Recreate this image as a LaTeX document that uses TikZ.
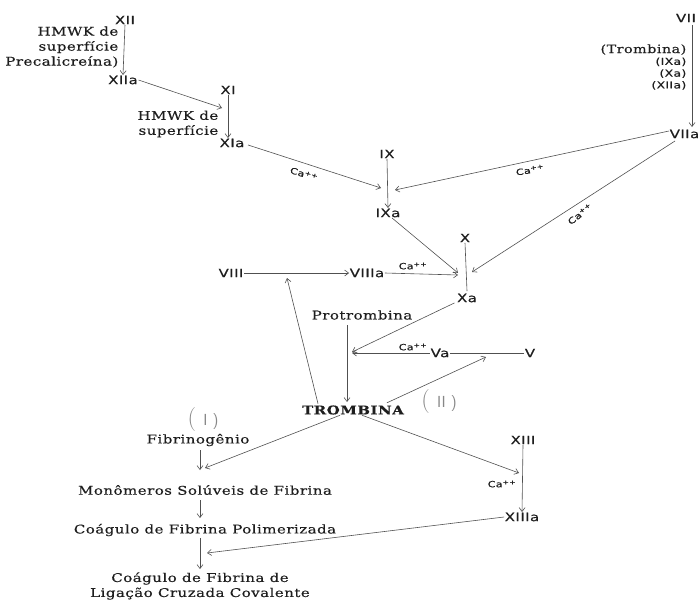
\documentclass[tikz,border=0pt]{standalone}
\usepackage{fontspec}
\setmainfont{DejaVu Serif}[LetterSpace=4,FakeStretch=1.25,FakeBold=0.4]
\newfontfamily\numfont{DejaVu Sans}[LetterSpace=4,FakeStretch=1.3,FakeBold=0.6]
\newfontfamily\lmsans{Latin Modern Sans}
\newfontfamily\lmroman{Latin Modern Roman}
\usetikzlibrary{arrows.meta}
\definecolor{txt}{RGB}{30,30,30}
\definecolor{lnc}{RGB}{80,80,80}
\definecolor{pen}{RGB}{135,135,135}
\tikzset{
  num/.style={font=\numfont\fontsize{11.5}{13}\selectfont, text=txt, inner sep=0.5pt},
  lab/.style={font=\fontsize{12}{15}\selectfont, text=txt, inner sep=0.5pt, align=center},
  labr/.style={font=\fontsize{12}{15}\selectfont, text=txt, inner sep=0.5pt, align=right},
  small/.style={font=\numfont\fontsize{9.5}{11.8}\selectfont, text=txt, inner sep=0.5pt, align=right},
  ca/.style={font=\numfont\fontsize{8.5}{10}\selectfont, text=txt, inner sep=0.5pt},
  roman/.style={font=\lmroman\fontsize{24}{26}\selectfont, text=pen, inner sep=0pt},
  ln/.style={draw=lnc, line width=0.6pt},
  arr/.style={ln, -{Straight Barb[length=4pt,width=6pt]}}
}
\begin{document}
\begin{tikzpicture}[x=1pt,y=-1pt]
\useasboundingbox (0,0) rectangle (700,599);
% intrinsic pathway
\node[num] (XII) at (125,20) {XII};
\node[num] (XIIa) at (123,80) {XIIa};
\node[labr, anchor=east] (h1) at (119,47) {HMWK de\\superfície\\Precalicreína)};
\draw[arr] (XII.south) -- (XIIa.north);
\node[num] (XI) at (228,90) {XI};
\node[num] (XIa) at (232,143) {XIa};
\node[labr, anchor=east] (h2) at (219,124) {HMWK de\\superfície};
\draw[arr] (XI.south) -- ([xshift=-4pt]XIa.north);
\coordinate (c1) at (222,108);
\draw[arr] (XIIa.east) -- (c1);
% IX
\node[num] (IX) at (387,154) {IX};
\node[num] (IXa) at (388,213) {IXa};
\draw[arr] (IX.south) -- (IXa.north);
\coordinate (c2) at (381,188);
\coordinate (c2b) at (395,190);
\draw[arr] ([xshift=3pt,yshift=-2pt]XIa.east) -- (c2);
\node[ca, rotate=-17] (ca1) at (304,174) {Ca\textsuperscript{++}};
% extrinsic
\node[num] (VII) at (686,18) {VII};
\node[num, anchor=east] (VIIa) at (700,134) {VIIa};
\node[small, anchor=east] (tr) at (687,67) {\rmfamily\fontsize{11.5}{13}\selectfont(Trombina)\\(IXa)\\(Xa)\\(XIIa)};
\coordinate (v7a) at (692,25);
\coordinate (v7b) at (692,127);
\draw[arr] (v7a) -- (v7b);
\draw[arr] ([yshift=3pt]VIIa.west) -- (c2b);
\node[ca, rotate=10] (ca2) at (530,170) {Ca\textsuperscript{++}};
% X
\node[num] (X) at (465,238) {X};
\node[num] (Xa) at (467,298) {Xa};
\draw[ln] (X.south) -- ([yshift=2pt]Xa.north);
\coordinate (c3) at (472,272);
\coordinate (c3b) at (458,273);
\coordinate (c4) at (458,275);
\draw[arr] ([xshift=6pt,yshift=-2pt]VIIa.south west) -- (c3);
\node[ca, rotate=38] (ca3) at (580,214) {Ca\textsuperscript{++}};
\draw[arr] ([xshift=4pt]IXa.south) -- (c3b);
\node[num] (VIII) at (231,273) {VIII};
\node[num] (VIIIa) at (367,273) {VIIIa};
\draw[arr] (VIII.east) -- (VIIIa.west);
\draw[arr] (VIIIa.east) -- (c4);
\node[ca] (ca4) at (413,266) {Ca\textsuperscript{++}};
% common pathway
\node[lab] (pro) at (362,315) {Protrombina};
\node[lab, font=\bfseries\fontsize{12}{15}\selectfont] (TR) at (353,410) {TROMBINA};
\coordinate (p1) at (347,325);
\coordinate (p2) at (347,402);
\draw[arr] (p1) -- (p2);
\node[num] (Va) at (440,353) {Va};
\node[num] (V) at (530,353) {V};
\draw[ln] (V.west) -- (Va.east);
\coordinate (c6) at (352,352);
\coordinate (c6b) at (352,353);
\draw[arr] ([xshift=-2pt]Xa.south west) -- (c6);
\draw[arr] (Va.west) -- (c6b);
\node[ca] (ca5) at (413,347) {Ca\textsuperscript{++}};
\coordinate (c7) at (486,357);
\draw[arr] ([xshift=34pt,yshift=2pt]TR.north) -- (c7);
\coordinate (c5) at (287,278);
\draw[arr] ([xshift=-35pt,yshift=1pt]TR.north) -- (c5);
\node[roman] (rII) at (439,402) {( \lmsans\fontsize{16}{18}\selectfont II )};
\node[roman] (rI) at (203,420) {( \lmsans\fontsize{16}{18}\selectfont I )};
% fibrin
\node[lab] (fg) at (198,440) {Fibrinogênio};
\node[lab] (mon) at (205,490) {Monômeros Solúveis de Fibrina};
\node[lab] (pol) at (205,530) {Coágulo de Fibrina Polimerizada};
\node[lab] (cov) at (200,586) {Coágulo de Fibrina de\\Ligação Cruzada Covalente};
\coordinate (f1) at (200,450);
\coordinate (f2) at (200,470);
\draw[arr] (f1) -- (f2);
\coordinate (f3) at (200,500);
\coordinate (f4) at (200,518);
\draw[arr] (f3) -- (f4);
\coordinate (f5) at (200,538);
\coordinate (f6) at (200,569);
\draw[arr] (f5) -- (f6);
\coordinate (c8) at (205,468);
\draw[arr] ([xshift=-13pt]TR.south) -- (c8);
% XIII
\node[num] (XIII) at (523,440) {XIII};
\node[num] (XIIIa) at (522,517) {XIIIa};
\draw[arr] (XIII.south) -- (XIIIa.north);
\node[ca] (ca6) at (502,484) {Ca\textsuperscript{++}};
\coordinate (c9) at (519,473);
\draw[arr] ([xshift=9pt]TR.south) -- (c9);
\coordinate (c10) at (207,553);
\draw[arr] (XIIIa.west) -- (c10);
\end{tikzpicture}
\end{document}
